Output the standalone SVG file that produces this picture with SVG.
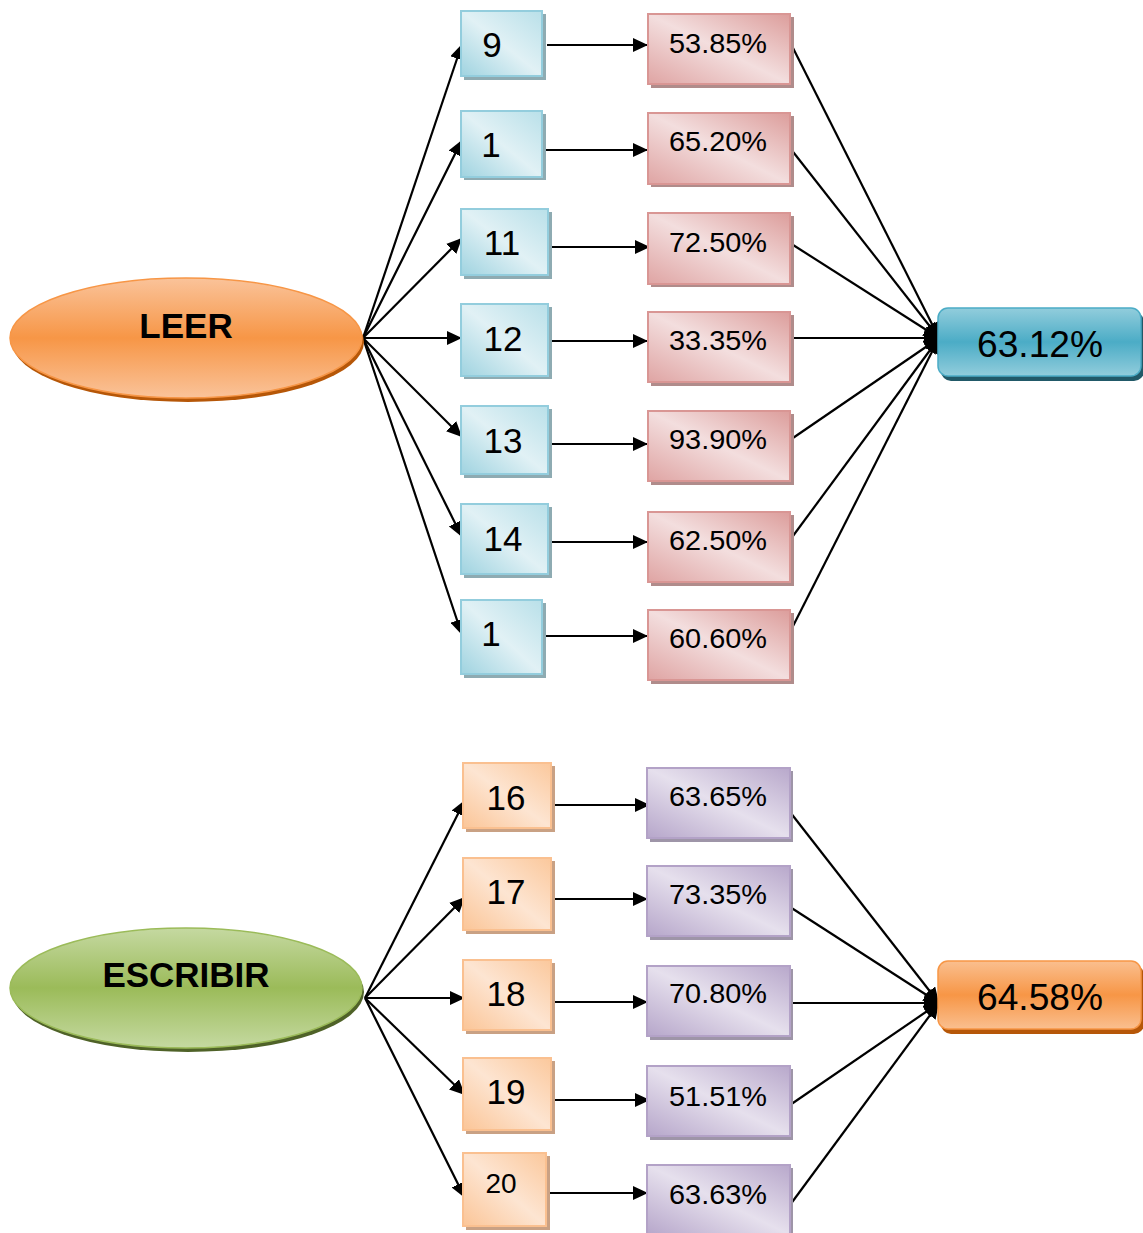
<svg xmlns="http://www.w3.org/2000/svg" width="1143" height="1233" viewBox="0 0 1143 1233">
<style>
text{font-family:"Liberation Sans",Arial,sans-serif;fill:#000;text-anchor:middle}
.big{font-size:35px;font-weight:bold}
.num{font-size:35px}
.pct{font-size:28.5px}
.res{font-size:37px}
.c line{stroke:#000;stroke-width:2.2}
.blue{fill:url(#gBlue);stroke:#93cddd;stroke-width:2}
.red{fill:url(#gRed);stroke:#d99694;stroke-width:2}
.org{fill:url(#gOrg);stroke:#fac090;stroke-width:2}
.pur{fill:url(#gPur);stroke:#b3a2c7;stroke-width:2}
.shB{fill:#8eabb2}
.shR{fill:#b08c8b}
.shO{fill:#c9a184}
.shP{fill:#9e95a8}
</style>
<defs>
<marker id="ah" viewBox="0 0 10 10" refX="10" refY="5" markerWidth="7" markerHeight="6.5" markerUnits="strokeWidth" orient="auto" preserveAspectRatio="none">
<path d="M0,0 L10,5 L0,10 z" fill="#000"/>
</marker>
<linearGradient id="gBlue" x1="0" y1="1" x2="1" y2="0">
<stop offset="0" stop-color="#9fd3e0"/><stop offset="0.5" stop-color="#e1f1f5"/><stop offset="1" stop-color="#b9e0e9"/>
</linearGradient>
<linearGradient id="gRed" x1="0" y1="1" x2="1" y2="0">
<stop offset="0" stop-color="#dfa4a3"/><stop offset="0.5" stop-color="#f3dede"/><stop offset="1" stop-color="#dc9d9b"/>
</linearGradient>
<linearGradient id="gOrg" x1="0" y1="1" x2="1" y2="0">
<stop offset="0" stop-color="#fbc597"/><stop offset="0.5" stop-color="#fde5d2"/><stop offset="1" stop-color="#fbc89c"/>
</linearGradient>
<linearGradient id="gPur" x1="0" y1="1" x2="1" y2="0">
<stop offset="0" stop-color="#b6a6ca"/><stop offset="0.5" stop-color="#e6e0ed"/><stop offset="1" stop-color="#b8a8cb"/>
</linearGradient>
<linearGradient id="gEO" x1="0" y1="0" x2="0" y2="1">
<stop offset="0" stop-color="#fac39a"/><stop offset="0.5" stop-color="#f79646"/><stop offset="1" stop-color="#fac39a"/>
</linearGradient>
<linearGradient id="gEG" x1="0" y1="0" x2="0" y2="1">
<stop offset="0" stop-color="#c5d9a1"/><stop offset="0.5" stop-color="#9bbb59"/><stop offset="1" stop-color="#c5d9a1"/>
</linearGradient>
<linearGradient id="gRB" x1="0" y1="0" x2="0" y2="1">
<stop offset="0" stop-color="#92cddc"/><stop offset="0.5" stop-color="#4bacc6"/><stop offset="1" stop-color="#92cddc"/>
</linearGradient>
<linearGradient id="gRO" x1="0" y1="0" x2="0" y2="1">
<stop offset="0" stop-color="#fabf8f"/><stop offset="0.5" stop-color="#f79646"/><stop offset="1" stop-color="#fabf8f"/>
</linearGradient>
</defs>

<g id="connectors" class="c">
<line x1="363" y1="338" x2="462" y2="44" marker-end="url(#ah)"/>
<line x1="363" y1="338" x2="462" y2="140" marker-end="url(#ah)"/>
<line x1="363" y1="338" x2="462" y2="238" marker-end="url(#ah)"/>
<line x1="363" y1="338" x2="462" y2="338" marker-end="url(#ah)"/>
<line x1="363" y1="338" x2="462" y2="437" marker-end="url(#ah)"/>
<line x1="363" y1="338" x2="462" y2="537" marker-end="url(#ah)"/>
<line x1="363" y1="338" x2="462" y2="635" marker-end="url(#ah)"/>
<line x1="547" y1="45" x2="648" y2="45" marker-end="url(#ah)"/>
<line x1="545" y1="150" x2="648" y2="150" marker-end="url(#ah)"/>
<line x1="550" y1="247" x2="650" y2="247" marker-end="url(#ah)"/>
<line x1="545" y1="341" x2="648" y2="341" marker-end="url(#ah)"/>
<line x1="545" y1="444" x2="648" y2="444" marker-end="url(#ah)"/>
<line x1="550" y1="542" x2="648" y2="542" marker-end="url(#ah)"/>
<line x1="545" y1="636" x2="648" y2="636" marker-end="url(#ah)"/>
<line x1="790" y1="42" x2="939" y2="338" marker-end="url(#ah)"/>
<line x1="790" y1="148" x2="939" y2="338" marker-end="url(#ah)"/>
<line x1="790" y1="243" x2="939" y2="338" marker-end="url(#ah)"/>
<line x1="790" y1="338" x2="939" y2="338" marker-end="url(#ah)"/>
<line x1="790" y1="440" x2="939" y2="338" marker-end="url(#ah)"/>
<line x1="790" y1="540" x2="939" y2="338" marker-end="url(#ah)"/>
<line x1="790" y1="632" x2="939" y2="338" marker-end="url(#ah)"/>
<line x1="365" y1="998" x2="465" y2="800" marker-end="url(#ah)"/>
<line x1="365" y1="998" x2="465" y2="897" marker-end="url(#ah)"/>
<line x1="365" y1="998" x2="465" y2="998" marker-end="url(#ah)"/>
<line x1="365" y1="998" x2="465" y2="1095" marker-end="url(#ah)"/>
<line x1="365" y1="998" x2="465" y2="1198" marker-end="url(#ah)"/>
<line x1="550" y1="805" x2="650" y2="805" marker-end="url(#ah)"/>
<line x1="545" y1="899" x2="648" y2="899" marker-end="url(#ah)"/>
<line x1="545" y1="1002" x2="648" y2="1002" marker-end="url(#ah)"/>
<line x1="550" y1="1100" x2="650" y2="1100" marker-end="url(#ah)"/>
<line x1="545" y1="1193" x2="648" y2="1193" marker-end="url(#ah)"/>
<line x1="790" y1="812" x2="939" y2="1003" marker-end="url(#ah)"/>
<line x1="790" y1="907" x2="939" y2="1003" marker-end="url(#ah)"/>
<line x1="790" y1="1003" x2="939" y2="1003" marker-end="url(#ah)"/>
<line x1="790" y1="1105" x2="939" y2="1003" marker-end="url(#ah)"/>
<line x1="790" y1="1205" x2="939" y2="1003" marker-end="url(#ah)"/>
</g>

<g id="leer">
<ellipse cx="188" cy="342" rx="176" ry="60" fill="#b65708"/>
<ellipse cx="186" cy="338" rx="176" ry="60" fill="url(#gEO)" stroke="#f79646" stroke-width="1.5"/>
<text class="big" x="186" y="338">LEER</text>
</g>
<g id="escribir">
<ellipse cx="188" cy="992" rx="176" ry="60" fill="#4f6228"/>
<ellipse cx="186" cy="988" rx="176" ry="60" fill="url(#gEG)" stroke="#9bbb59" stroke-width="1.5"/>
<text class="big" x="186" y="987">ESCRIBIR</text>
</g>

<g id="b9"><rect class="shB" x="464" y="14" width="82" height="66"/><rect class="blue" x="461" y="11" width="81" height="65"/><text class="num" x="492" y="57">9</text></g>
<g id="b1a"><rect class="shB" x="464" y="114" width="82" height="66"/><rect class="blue" x="461" y="111" width="81" height="66"/><text class="num" x="491" y="157">1</text></g>
<g id="b11"><rect class="shB" x="464" y="212" width="88" height="67"/><rect class="blue" x="461" y="209" width="87" height="66"/><text class="num" x="502" y="255">11</text></g>
<g id="b12"><rect class="shB" x="464" y="307" width="88" height="72"/><rect class="blue" x="461" y="304" width="87" height="72"/><text class="num" x="503" y="351">12</text></g>
<g id="b13"><rect class="shB" x="464" y="409" width="88" height="69"/><rect class="blue" x="461" y="406" width="87" height="68"/><text class="num" x="503" y="453">13</text></g>
<g id="b14"><rect class="shB" x="464" y="507" width="88" height="71"/><rect class="blue" x="461" y="504" width="87" height="70"/><text class="num" x="503" y="551">14</text></g>
<g id="b1b"><rect class="shB" x="464" y="603" width="82" height="75"/><rect class="blue" x="461" y="600" width="81" height="74"/><text class="num" x="491" y="646">1</text></g>

<g id="r1"><rect class="shR" x="651" y="17" width="143" height="71"/><rect class="red" x="648" y="14" width="142" height="70"/><text class="pct" x="718" y="53" textLength="98" lengthAdjust="spacingAndGlyphs">53.85%</text></g>
<g id="r2"><rect class="shR" x="651" y="116" width="143" height="71"/><rect class="red" x="648" y="113" width="142" height="71"/><text class="pct" x="718" y="151" textLength="98" lengthAdjust="spacingAndGlyphs">65.20%</text></g>
<g id="r3"><rect class="shR" x="651" y="216" width="143" height="71"/><rect class="red" x="648" y="213" width="142" height="71"/><text class="pct" x="718" y="252" textLength="98" lengthAdjust="spacingAndGlyphs">72.50%</text></g>
<g id="r4"><rect class="shR" x="651" y="315" width="143" height="71"/><rect class="red" x="648" y="312" width="142" height="70"/><text class="pct" x="718" y="350" textLength="98" lengthAdjust="spacingAndGlyphs">33.35%</text></g>
<g id="r5"><rect class="shR" x="651" y="414" width="143" height="71"/><rect class="red" x="648" y="411" width="142" height="70"/><text class="pct" x="718" y="449" textLength="98" lengthAdjust="spacingAndGlyphs">93.90%</text></g>
<g id="r6"><rect class="shR" x="651" y="515" width="143" height="71"/><rect class="red" x="648" y="512" width="142" height="70"/><text class="pct" x="718" y="550" textLength="98" lengthAdjust="spacingAndGlyphs">62.50%</text></g>
<g id="r7"><rect class="shR" x="651" y="613" width="143" height="71"/><rect class="red" x="648" y="610" width="142" height="70"/><text class="pct" x="718" y="648" textLength="98" lengthAdjust="spacingAndGlyphs">60.60%</text></g>

<g id="resLeer">
<rect x="941" y="312" width="203" height="69" rx="10" fill="#215968"/>
<rect x="938" y="308" width="203" height="68" rx="10" fill="url(#gRB)" stroke="#4bacc6" stroke-width="1.5"/>
<text class="res" x="1040" y="357" textLength="126" lengthAdjust="spacingAndGlyphs">63.12%</text>
</g>

<g id="o16"><rect class="shO" x="466" y="766" width="89" height="66"/><rect class="org" x="463" y="763" width="88" height="65"/><text class="num" x="506" y="810">16</text></g>
<g id="o17"><rect class="shO" x="466" y="861" width="89" height="73"/><rect class="org" x="463" y="858" width="88" height="72"/><text class="num" x="506" y="904">17</text></g>
<g id="o18"><rect class="shO" x="466" y="963" width="89" height="71"/><rect class="org" x="463" y="960" width="88" height="70"/><text class="num" x="506" y="1006">18</text></g>
<g id="o19"><rect class="shO" x="466" y="1061" width="89" height="73"/><rect class="org" x="463" y="1058" width="88" height="72"/><text class="num" x="506" y="1104">19</text></g>
<g id="o20"><rect class="shO" x="466" y="1156" width="84" height="74"/><rect class="org" x="463" y="1153" width="83" height="73"/><text x="501" y="1193" style="font-size:28px">20</text></g>

<g id="p1"><rect class="shP" x="650" y="771" width="143" height="71"/><rect class="pur" x="647" y="768" width="143" height="70"/><text class="pct" x="718" y="806" textLength="98" lengthAdjust="spacingAndGlyphs">63.65%</text></g>
<g id="p2"><rect class="shP" x="650" y="869" width="143" height="71"/><rect class="pur" x="647" y="866" width="143" height="70"/><text class="pct" x="718" y="904" textLength="98" lengthAdjust="spacingAndGlyphs">73.35%</text></g>
<g id="p3"><rect class="shP" x="650" y="969" width="143" height="71"/><rect class="pur" x="647" y="966" width="143" height="70"/><text class="pct" x="718" y="1003" textLength="98" lengthAdjust="spacingAndGlyphs">70.80%</text></g>
<g id="p4"><rect class="shP" x="650" y="1069" width="143" height="71"/><rect class="pur" x="647" y="1066" width="143" height="70"/><text class="pct" x="718" y="1106" textLength="98" lengthAdjust="spacingAndGlyphs">51.51%</text></g>
<g id="p5"><rect class="shP" x="650" y="1168" width="143" height="71"/><rect class="pur" x="647" y="1165" width="143" height="70"/><text class="pct" x="718" y="1204" textLength="98" lengthAdjust="spacingAndGlyphs">63.63%</text></g>

<g id="resEscribir">
<rect x="941" y="965" width="203" height="69" rx="10" fill="#b65708"/>
<rect x="938" y="961" width="203" height="68" rx="10" fill="url(#gRO)" stroke="#f79646" stroke-width="1.5"/>
<text class="res" x="1040" y="1010" textLength="126" lengthAdjust="spacingAndGlyphs">64.58%</text>
</g>
</svg>
